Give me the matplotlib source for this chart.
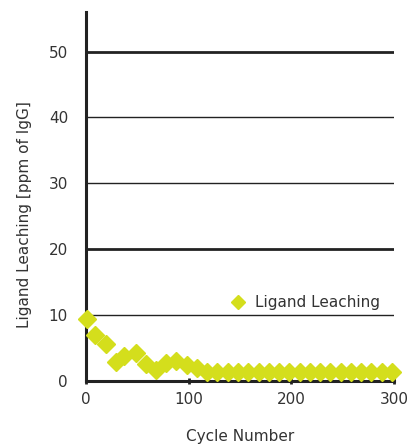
import matplotlib
matplotlib.use("Agg")
import matplotlib.pyplot as plt

plt.rcParams["font.family"] = ["DejaVu Sans"]

cycles = [1, 9, 19, 29, 37, 49, 58, 68, 78, 88, 98, 108, 118, 128, 138, 148,
          158, 168, 178, 188, 198, 208, 218, 228, 238, 248, 258, 268, 278, 288, 298]
leaching = [9.4, 7.0, 5.6, 2.8, 3.8, 4.2, 2.6, 1.7, 2.7, 3.0, 2.4, 1.9, 1.3, 1.4,
            1.3, 1.3, 1.3, 1.3, 1.3, 1.3, 1.3, 1.3, 1.3, 1.3, 1.3, 1.3, 1.3, 1.3,
            1.3, 1.3, 1.3]
y_ticks = [0, 10, 20, 30, 40, 50]
x_ticks = [0, 100, 200, 300]

fig = plt.figure(figsize=(4.16, 4.46), dpi=100)
ax = fig.add_axes([0.207, 0.146, 0.74, 0.827])

for v in y_ticks[1:]:
    lw = 2.0 if v in (20, 50) else 1.0
    ax.axhline(v, color="#222222", lw=lw, zorder=1)

ax.plot(cycles, leaching, linestyle="none", marker="D", ms=9.5,
        color="#d4de1c", label="Ligand Leaching", zorder=3, clip_on=False)

ax.set_xlim(0, 300)
ax.set_ylim(0, 56)
ax.set_xticks(x_ticks)
ax.set_yticks(y_ticks)
ax.spines["top"].set_visible(False)
ax.spines["right"].set_visible(False)
ax.spines["left"].set_linewidth(2.2)
ax.spines["bottom"].set_linewidth(2.2)
ax.spines["left"].set_color("#222222")
ax.spines["bottom"].set_color("#222222")
ax.tick_params(axis="x", direction="inout", length=4, width=2, color="#222222",
               labelsize=11, pad=6, labelcolor="#333333")
ax.tick_params(axis="y", length=0, labelsize=11, pad=13, labelcolor="#333333")

ax.set_xlabel("Cycle Number", fontsize=11, color="#333333", labelpad=16)
ax.set_ylabel("Ligand Leaching [ppm of IgG]", fontsize=11, color="#333333")
ax.yaxis.set_label_coords(-0.175, 0.45)

ax.legend(loc="lower right", bbox_to_anchor=(1.0, 0.155), frameon=False,
          fontsize=11, handletextpad=0.1, markerscale=0.7, labelcolor="#333333")

plt.savefig("out.png", dpi=100)
plt.close()
